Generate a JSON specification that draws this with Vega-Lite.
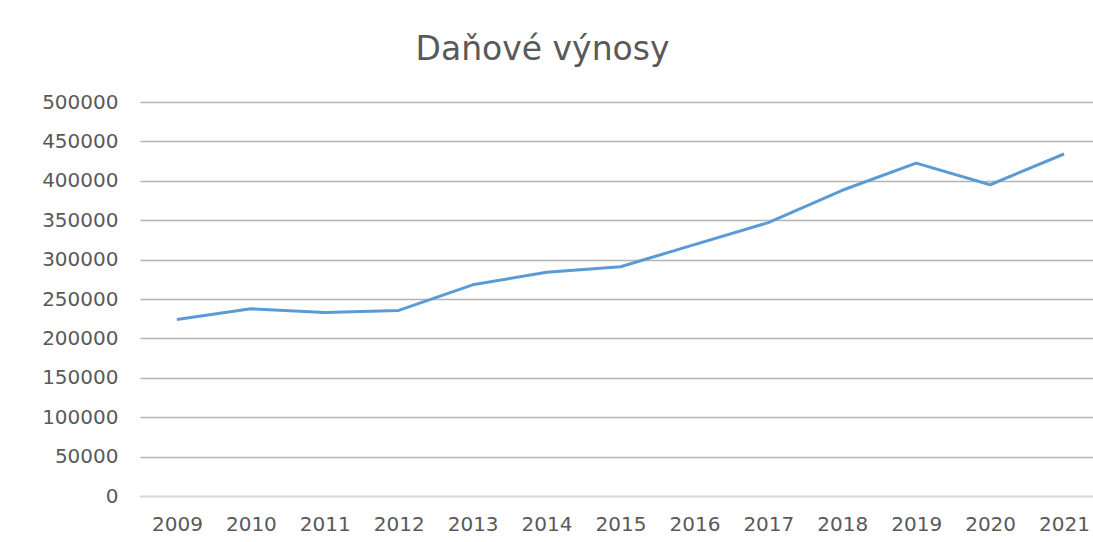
{
  "$schema": "https://vega.github.io/schema/vega-lite/v6.json",
  "autosize": {"type": "none"},
  "padding": {"left": 140, "top": 102, "right": 0, "bottom": 46},
  "width": 961,
  "height": 394,
  "background": "white",
  "title": {
    "text": "Daňové výnosy",
    "frame": "group",
    "anchor": "middle",
    "dx": -78,
    "offset": 25,
    "font": "DejaVu Sans",
    "fontSize": 33,
    "fontWeight": "normal",
    "color": "#595959"
  },
  "data": {
    "values": [
      {"rok": "2009", "vynosy": 224000},
      {"rok": "2010", "vynosy": 237500},
      {"rok": "2011", "vynosy": 233000},
      {"rok": "2012", "vynosy": 235500},
      {"rok": "2013", "vynosy": 268000},
      {"rok": "2014", "vynosy": 284000},
      {"rok": "2015", "vynosy": 291000},
      {"rok": "2016", "vynosy": 319000},
      {"rok": "2017", "vynosy": 347000},
      {"rok": "2018", "vynosy": 388000},
      {"rok": "2019", "vynosy": 422500},
      {"rok": "2020", "vynosy": 395000},
      {"rok": "2021", "vynosy": 434000}
    ]
  },
  "mark": {"type": "line", "color": "#5b9bd5", "strokeWidth": 3, "strokeJoin": "round"},
  "encoding": {
    "x": {
      "field": "rok",
      "type": "ordinal",
      "scale": {"type": "point", "padding": 0.5},
      "axis": {
        "title": null,
        "labelAngle": 0,
        "ticks": false,
        "domain": true,
        "domainColor": "#d9d9d9",
        "domainWidth": 1.5,
        "labelPadding": 18,
        "labelFont": "DejaVu Sans",
        "labelFontSize": 20,
        "labelColor": "#595959",
        "grid": false
      }
    },
    "y": {
      "field": "vynosy",
      "type": "quantitative",
      "scale": {"domain": [0, 500000], "nice": false},
      "axis": {
        "title": null,
        "values": [0, 50000, 100000, 150000, 200000, 250000, 300000, 350000, 400000, 450000, 500000],
        "format": "d",
        "ticks": false,
        "domain": false,
        "grid": true,
        "gridColor": "#b4b4b4",
        "gridWidth": 1.5,
        "labelPadding": 22,
        "labelFont": "DejaVu Sans",
        "labelFontSize": 20,
        "labelColor": "#595959"
      }
    }
  },
  "config": {
    "view": {"stroke": null}
  }
}
